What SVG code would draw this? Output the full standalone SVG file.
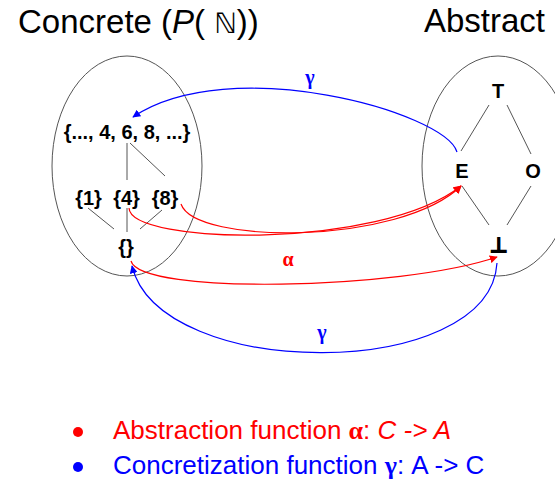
<svg xmlns="http://www.w3.org/2000/svg" width="555" height="485" viewBox="0 0 555 485">
<defs>
<style>
.title{font-family:"Liberation Sans",Arial,sans-serif;font-size:33px;fill:#000}
.node{font-family:"Liberation Sans",Arial,sans-serif;font-size:20px;font-weight:bold;fill:#000;text-anchor:middle}
.greek{font-family:"Liberation Serif","Times New Roman",serif;font-weight:bold}
.set{fill:none;stroke:#555;stroke-width:1}
.edge{stroke:#555;stroke-width:1}
.red{fill:none;stroke:#f00;stroke-width:1.2}
.blue{fill:none;stroke:#00f;stroke-width:1.2}
.legend{font-family:"Liberation Sans",Arial,sans-serif;font-size:26px}
</style>
<marker id="ar" viewBox="0 0 10 10" refX="9" refY="5" markerWidth="8" markerHeight="8" markerUnits="userSpaceOnUse" orient="auto"><path d="M0,0 L10,5 L0,10 z" fill="#f00"/></marker>
<marker id="ab" viewBox="0 0 10 10" refX="9" refY="5" markerWidth="8" markerHeight="8" markerUnits="userSpaceOnUse" orient="auto"><path d="M0,0 L10,5 L0,10 z" fill="#00f"/></marker>
</defs>
<rect width="555" height="485" fill="#fff"/>
<text class="title" x="18" y="33">Concrete (<tspan font-style="italic">P</tspan>( <tspan font-family="DejaVu Sans,sans-serif" font-size="28">ℕ</tspan>))</text>
<text class="title" x="424" y="32" font-size="34">Abstract</text>
<ellipse class="set" cx="127" cy="166" rx="75" ry="110"/>
<ellipse class="set" cx="498" cy="166" rx="76" ry="110"/>
<g id="hasse-lines">
<line class="edge" x1="127" y1="143" x2="127" y2="180"/>
<line class="edge" x1="130" y1="143" x2="165" y2="176"/>
<line class="edge" x1="88" y1="208" x2="114" y2="229"/>
<line class="edge" x1="127" y1="208" x2="127" y2="232"/>
<line class="edge" x1="162" y1="210" x2="140" y2="229"/>
<line class="edge" x1="489" y1="105" x2="461" y2="151"/>
<line class="edge" x1="507" y1="105" x2="531" y2="154"/>
<line class="edge" x1="462" y1="186" x2="489" y2="225"/>
<line class="edge" x1="531" y1="186" x2="507" y2="225"/>
</g>
<g id="n-top"><text class="node" x="127" y="139">{..., 4, 6, 8, ...}</text></g>
<g id="n-1"><text class="node" x="88.5" y="205">{1}</text></g>
<g id="n-4"><text class="node" x="126.5" y="205">{4}</text></g>
<g id="n-8"><text class="node" x="165" y="205">{8}</text></g>
<g id="n-empty"><text class="node" x="126" y="254">{}</text></g>
<g id="a-top"><text class="node" x="498" y="98">T</text></g>
<g id="a-E"><text class="node" x="462" y="178">E</text></g>
<g id="a-O"><text class="node" x="533" y="178">O</text></g>
<g id="a-bot"><text class="node" x="498" y="252" font-family="DejaVu Sans,sans-serif" font-size="23" stroke="#000" stroke-width="1.2">⊥</text></g>
<g id="connectors">
<path class="blue" d="M457,152 C445,112 230,52 133,117" marker-end="url(#ab)"/>
<path class="red" d="M181,204 C195,245 400,245 461,186" marker-end="url(#ar)"/>
<path class="red" d="M129,208 C130,245 380,250 461,186" marker-end="url(#ar)"/>
<path class="red" d="M131,261 C140,295 400,290 497,257" marker-end="url(#ar)"/>
<path class="blue" d="M497,263 C490,382 160,382 132,266" marker-end="url(#ab)"/>
<text class="greek" x="310" y="84" font-size="20" fill="#00f" text-anchor="middle">γ</text>
<text class="greek" x="288" y="266" font-size="20" fill="#f00" text-anchor="middle">α</text>
<text class="greek" x="322" y="339" font-size="20" fill="#00f" text-anchor="middle">γ</text>
</g>
<circle cx="78" cy="432" r="5" fill="#f00"/>
<text class="legend" x="113" y="439" fill="#f00">Abstraction function <tspan class="greek">α</tspan>: <tspan font-style="italic">C -&gt; A</tspan></text>
<circle cx="78" cy="467" r="5" fill="#00f"/>
<text class="legend" x="113" y="474" fill="#00f">Concretization function <tspan class="greek">γ</tspan>: A -&gt; C</text>
</svg>
